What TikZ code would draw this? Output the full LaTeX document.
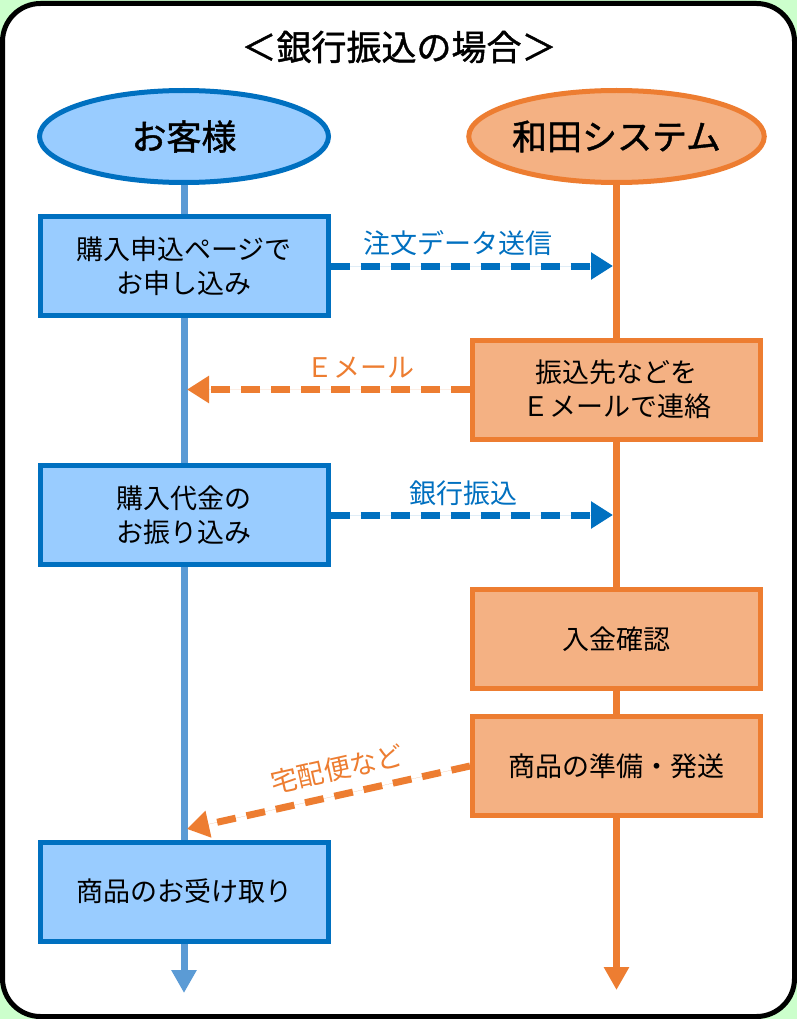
\documentclass[tikz,border=0pt]{standalone}
\usepackage{fontspec}
\setmainfont{Noto Sans CJK JP}
\newfontfamily\medfont[FakeBold=1.2]{Noto Sans CJK JP}
\usetikzlibrary{arrows.meta,shapes.geometric}
\definecolor{bggreen}{HTML}{CCFFCC}
\definecolor{bfill}{HTML}{99CCFF}
\definecolor{bline}{HTML}{0070C0}
\definecolor{blife}{HTML}{5B9BD5}
\definecolor{ofill}{HTML}{F4B183}
\definecolor{oline}{HTML}{ED7D31}
\tikzset{
  actor/.style={ellipse, line width=5pt, minimum width=289pt, minimum height=92pt, inner sep=0pt, font=\medfont\fontsize{35}{40}\selectfont},
  bactor/.style={actor, draw=bline, fill=bfill},
  oactor/.style={actor, draw=oline, fill=ofill},
  stepbox/.style={rectangle, line width=5pt, minimum width=288pt, minimum height=99pt, inner sep=0pt, align=center, font=\fontsize{27}{34}\selectfont},
  bbox/.style={stepbox, draw=bline, fill=bfill},
  obox/.style={stepbox, draw=oline, fill=ofill},
  lifeline/.style={line width=7pt, -{Triangle[width=24pt,length=23pt]}},
  msg/.style={line width=7pt, dash pattern=on 19pt off 11pt, -{Triangle[width=26pt,length=22pt]}},
  lbl/.style={font=\fontsize{27}{30}\selectfont, inner sep=0pt}
}
\begin{document}
\begin{tikzpicture}[x=1pt,y=-1pt]
\useasboundingbox (0,0) rectangle (797,1019);
\fill[bggreen] (0,0) rectangle (797,1019);
\draw[line width=5pt, fill=white, rounded corners=38pt] (2.5,3.5) rectangle (794.5,1016.5);

\node[font=\medfont\fontsize{35}{40}\selectfont, inner sep=0pt] (title) at (399,47) {＜銀行振込の場合＞};

\node[bactor] (cust) at (184,136.5) {お客様};
\node[oactor] (sys) at (616.5,136.5) {和田システム};

\coordinate (cend) at (184,993);
\coordinate (send) at (616.5,990);
\draw[lifeline, draw=blife, fill=blife] (cust.south) -- (cend);
\draw[lifeline, draw=oline, fill=oline] (sys.south) -- (send);

\node[bbox] (b1) at (184,266) {購入申込ページで\\お申し込み};
\node[obox] (b2) at (616.5,389.5) {振込先などを\\Ｅメールで連絡};
\node[bbox] (b3) at (184,515) {購入代金の\\お振り込み};
\node[obox] (b4) at (616.5,639) {入金確認};
\node[obox] (b5) at (616.5,766) {商品の準備・発送};
\node[bbox] (b6) at (184,891.5) {商品のお受け取り};

\coordinate (t1) at (613,266);
\coordinate (t2) at (187,389.5);
\coordinate (t3) at (613,515);
\coordinate (t5) at (187,829);

\draw[msg, draw=bline, fill=bline] (b1.east) -- (t1);
\draw[msg, draw=oline, fill=oline] (b2.west) -- (t2);
\draw[msg, draw=bline, fill=bline] (b3.east) -- (t3);
\draw[msg, draw=oline, fill=oline] (b5.west) -- (t5);

\node[lbl, text=bline] (l1) at (458,243) {注文データ送信};
\node[lbl, text=oline] (l2) at (360,368) {Ｅメール};
\node[lbl, text=bline] (l3) at (463,493) {銀行振込};
\node[lbl, text=oline, rotate=12.6] (l5) at (337,769) {宅配便など};
\end{tikzpicture}
\end{document}
